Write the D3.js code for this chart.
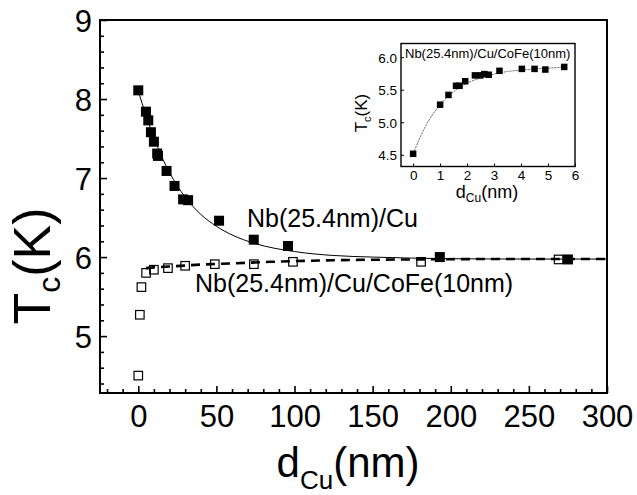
<!DOCTYPE html>
<html><head><meta charset="utf-8">
<script src="https://cdn.jsdelivr.net/npm/d3@7"></script>
<style>body{margin:0;background:#fff}svg{display:block;font-family:"Liberation Sans",Arial,sans-serif}</style>
</head><body><svg id="c" width="637" height="495"></svg>
<script>
// ---- main panel data ----
const filledX=[0,4.9,6.4,8.1,10,12.1,12.6,18.1,23.2,28.7,31.9,51.7,73.9,95.8,193,275];
const filledY=[8.11,7.84,7.73,7.58,7.46,7.31,7.28,7.09,6.90,6.73,6.72,6.46,6.22,6.14,6.00,5.97];
const openX=[0,1,2,5,10,19,30,49,74,99,181,269];
const openY=[4.50,5.27,5.62,5.80,5.84,5.86,5.89,5.91,5.91,5.94,5.94,5.97];
const fitSolidX=[0,5,10,15,20,25,30,40,50,60,75,100,125,150,200,250,300];
const fitSolidY=[8.10,7.79,7.51,7.27,7.07,6.90,6.76,6.54,6.39,6.28,6.17,6.07,6.02,6.00,5.98,5.975,5.975];
const fitDashX=[5,10,20,40,60,85,125,175,225,300];
const fitDashY=[5.86,5.87,5.88,5.905,5.92,5.94,5.96,5.97,5.975,5.975];
const xMajor=[0,50,100,150,200,250,300];
const yMajor=[5,6,7,8,9];
const labelA="Nb(25.4nm)/Cu";
const labelB="Nb(25.4nm)/Cu/CoFe(10nm)";
// ---- inset data ----
const insetX=[0,1.0,1.31,1.59,1.72,1.93,2.29,2.49,2.64,2.80,3.20,4.03,4.50,4.90,5.60];
const insetY=[4.515,5.27,5.42,5.56,5.56,5.63,5.72,5.72,5.74,5.73,5.79,5.82,5.82,5.81,5.85];
const insetFitX=[0,0.5,1,1.5,2,2.5,3,3.5,4,4.5,5,5.6];
const insetFitY=[4.52,4.97,5.27,5.47,5.60,5.68,5.74,5.78,5.80,5.82,5.83,5.85];
const insetXTicks=[0,1,2,3,4,5,6];
const insetYTicks=[4.5,5.0,5.5,6.0];
const insetTitle="Nb(25.4nm)/Cu/CoFe(10nm)";

const svg=d3.select("#c");
svg.append("rect").attr("width",637).attr("height",495).attr("fill","#fff");
const M={l:100,r:607,t:20,b:393};
const x=d3.scaleLinear().domain([-24.5,300]).range([M.l,M.r]);
const y=d3.scaleLinear().domain([4.28,9]).range([M.b,M.t]);

const xMinor=d3.range(-20,301,10).filter(v=>!xMajor.includes(v));
const yMinor=d3.range(4.4,9.0,0.2).map(v=>+v.toFixed(1)).filter(v=>!yMajor.includes(v));

function styleAxis(g){g.select(".domain").remove();g.selectAll("line").attr("stroke","#000").attr("stroke-width",1.6);}
svg.append("g").attr("transform",`translate(0,${M.b})`)
  .call(d3.axisBottom(x).tickValues(xMajor).tickSize(-7).tickPadding(12).tickFormat(d3.format("d")))
  .call(styleAxis).call(g=>g.selectAll("text").attr("font-size",31).attr("fill","#000").attr("font-family","Liberation Sans, Arial, sans-serif"));
svg.append("g").attr("transform",`translate(0,${M.b})`)
  .call(d3.axisBottom(x).tickValues(xMinor).tickSize(-4).tickFormat(""))
  .call(styleAxis);
svg.append("g").attr("transform",`translate(${M.l},0)`)
  .call(d3.axisLeft(y).tickValues(yMajor).tickSize(-7).tickPadding(8).tickFormat(d3.format("d")))
  .call(styleAxis).call(g=>g.selectAll("text").attr("font-size",31).attr("fill","#000").attr("dy","0.36em").attr("font-family","Liberation Sans, Arial, sans-serif"));
svg.append("g").attr("transform",`translate(${M.l},0)`)
  .call(d3.axisLeft(y).tickValues(yMinor).tickSize(-4).tickFormat(""))
  .call(styleAxis);
svg.append("rect").attr("x",M.l).attr("y",M.t).attr("width",M.r-M.l).attr("height",M.b-M.t)
  .attr("fill","none").attr("stroke","#000").attr("stroke-width",2);

// axis titles
const yt=svg.append("text").attr("transform","translate(50,266) rotate(-90)").attr("text-anchor","middle")
  .attr("font-size",52).attr("fill","#000");
yt.append("tspan").text("T");
yt.append("tspan").text("c").attr("font-size",32).attr("dy",10);
yt.append("tspan").text("(K)").attr("dy",-10);
const xt=svg.append("text").attr("x",348).attr("y",477).attr("text-anchor","middle").attr("font-size",42).attr("fill","#000");
xt.append("tspan").text("d");
xt.append("tspan").text("Cu").attr("font-size",26).attr("dy",12);
xt.append("tspan").text("(nm)").attr("dy",-12);

// curves
const lineMain=d3.line().x(d=>x(d[0])).y(d=>y(d[1])).curve(d3.curveMonotoneX);
svg.append("path").datum(d3.zip(fitSolidX,fitSolidY)).attr("d",lineMain)
  .attr("fill","none").attr("stroke","#000").attr("stroke-width",1);
svg.append("path").datum(d3.zip(fitDashX,fitDashY)).attr("d",lineMain)
  .attr("fill","none").attr("stroke","#000").attr("stroke-width",2.6).attr("stroke-dasharray","9,6");

// markers
const sF=10, sO=8.5;
svg.append("g").selectAll("rect").data(d3.zip(openX,openY)).join("rect")
  .attr("x",d=>x(d[0])-sO/2).attr("y",d=>y(d[1])-sO/2).attr("width",sO).attr("height",sO)
  .attr("fill","none").attr("stroke","#000").attr("stroke-width",1.2);
svg.append("g").selectAll("rect").data(d3.zip(filledX,filledY)).join("rect")
  .attr("x",d=>x(d[0])-sF/2).attr("y",d=>y(d[1])-sF/2).attr("width",sF).attr("height",sF)
  .attr("fill","#000");

svg.append("text").attr("x",247).attr("y",227).attr("font-size",25).attr("fill","#000").text(labelA);
svg.append("text").attr("x",195).attr("y",292).attr("font-size",25).attr("fill","#000").text(labelB);

// ---- inset ----
const I={l:401,r:575,t:43.5,b:166.5};
const xi=d3.scaleLinear().domain([-0.45,6.0]).range([I.l,I.r]);
const yi=d3.scaleLinear().domain([4.32,6.21]).range([I.b,I.t]);
svg.append("rect").attr("x",I.l).attr("y",I.t).attr("width",I.r-I.l).attr("height",I.b-I.t).attr("fill","#fff");
function styleI(g){g.select(".domain").remove();g.selectAll("line").attr("stroke","#000").attr("stroke-width",1);
  g.selectAll("text").attr("font-size",13.5).attr("fill","#000").attr("font-family","Liberation Sans, Arial, sans-serif");}
svg.append("g").attr("transform",`translate(0,${I.b})`)
  .call(d3.axisBottom(xi).tickValues(insetXTicks).tickSize(-3).tickPadding(4).tickFormat(d3.format("d"))).call(styleI);
svg.append("g").attr("transform",`translate(${I.l},0)`)
  .call(d3.axisLeft(yi).tickValues(insetYTicks).tickSize(-3).tickPadding(4).tickFormat(d3.format(".1f"))).call(styleI)
  .call(g=>g.selectAll("text").attr("dy","0.36em"));
svg.append("rect").attr("x",I.l).attr("y",I.t).attr("width",I.r-I.l).attr("height",I.b-I.t)
  .attr("fill","none").attr("stroke","#000").attr("stroke-width",1.4);
const lineI=d3.line().x(d=>xi(d[0])).y(d=>yi(d[1])).curve(d3.curveMonotoneX);
svg.append("path").datum(d3.zip(insetFitX,insetFitY)).attr("d",lineI)
  .attr("fill","none").attr("stroke","#555").attr("stroke-width",0.9).attr("stroke-dasharray","2,1");
const sI=6.5;
svg.append("g").selectAll("rect").data(d3.zip(insetX,insetY)).join("rect")
  .attr("x",d=>xi(d[0])-sI/2).attr("y",d=>yi(d[1])-sI/2).attr("width",sI).attr("height",sI).attr("fill","#000");
svg.append("text").attr("x",405).attr("y",58).attr("font-size",13).attr("fill","#000").text(insetTitle);
const iyt=svg.append("text").attr("transform","translate(367,113) rotate(-90)").attr("text-anchor","middle")
  .attr("font-size",17).attr("fill","#000");
iyt.append("tspan").text("T");
iyt.append("tspan").text("c").attr("font-size",11).attr("dy",4);
iyt.append("tspan").text("(K)").attr("dy",-4);
const ixt=svg.append("text").attr("x",487).attr("y",198).attr("text-anchor","middle").attr("font-size",18).attr("fill","#000");
ixt.append("tspan").text("d");
ixt.append("tspan").text("Cu").attr("font-size",12).attr("dy",4);
ixt.append("tspan").text("(nm)").attr("dy",-4);
</script></body></html>
